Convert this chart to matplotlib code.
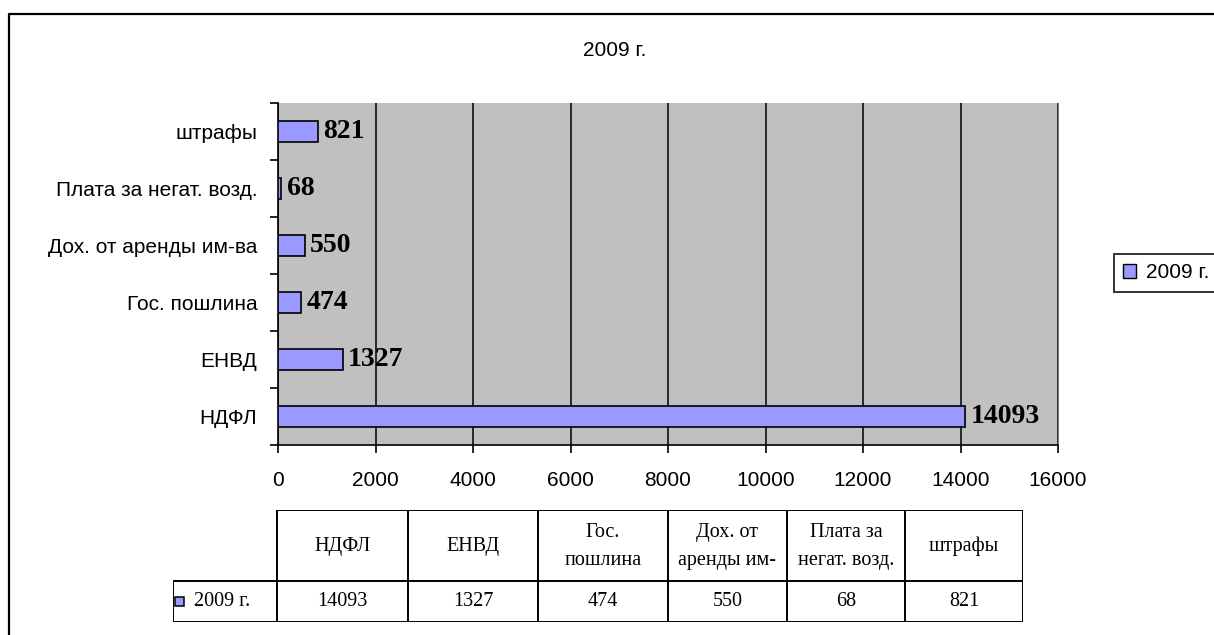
import numpy as np
import matplotlib
matplotlib.use("Agg")
import matplotlib.pyplot as plt
from matplotlib.patches import Rectangle
from matplotlib.lines import Line2D

# data
categories = ["НДФЛ", "ЕНВД", "Гос. пошлина", "Дох. от аренды им-ва",
              "Плата за негат. возд.", "штрафы"]
table_headers = ["НДФЛ", "ЕНВД", "Гос.\nпошлина", "Дох. от\nаренды им-",
                 "Плата за\nнегат. возд.", "штрафы"]
values = [14093, 1327, 474, 550, 68, 821]
series_name = "2009 г."
x_ticks = [0, 2000, 4000, 6000, 8000, 10000, 12000, 14000, 16000]

W, H = 1214, 635
bar_color = "#9999FF"
sans = ["Liberation Sans", "DejaVu Sans"]
serif = ["Liberation Serif", "DejaVu Serif"]

fig = plt.figure(figsize=(W / 100, H / 100), dpi=100)


def px(x0, y0, x1, y1):
    # pixel box (top-left origin) -> figure fraction rect
    return [x0 / W, 1 - y1 / H, (x1 - x0) / W, (y1 - y0) / H]


# outer chart frame (runs off the image right and bottom)
fig.add_artist(Line2D([9 / W, 9 / W, 1.0], [0.0, 1 - 14 / H, 1 - 14 / H],
                      transform=fig.transFigure, color="black", lw=1.6))

fig.text(615 / W, 1 - 50 / H, series_name, ha="center", va="center",
         fontsize=15, family=sans)

# main bar chart
ax = fig.add_axes(px(278, 103, 1058, 445))
ax.set_facecolor("#C0C0C0")
y = np.arange(len(categories))
ax.barh(y, values, height=0.38, color=bar_color, edgecolor="black",
        linewidth=1.2, zorder=3)
for yi, v in zip(y, values):
    ax.text(v + 110, yi, str(v), va="center", ha="left", fontsize=20,
            fontweight="bold", family=serif, zorder=0.5)

ax.set_xlim(0, 16000)
ax.set_ylim(-0.5, len(categories) - 0.5)
ax.set_xticks(x_ticks)
ax.set_xticklabels([str(t) for t in x_ticks], fontsize=15, family=sans)
ax.grid(axis="x", color="black", lw=1.1, zorder=1)
ax.set_axisbelow(True)
ax.set_yticks(y)
ax.set_yticklabels(categories, fontsize=15, family=sans)
ax.set_yticks(np.arange(-0.5, len(categories)), minor=True)
ax.tick_params(axis="y", which="major", length=0, pad=15)
ax.tick_params(axis="y", which="minor", length=6, width=1.2, direction="out")
ax.tick_params(axis="x", length=6, width=1.2, direction="out", pad=13)
ax.spines["top"].set_visible(False)
ax.spines["right"].set_color("#808080")
ax.spines["left"].set_linewidth(1.2)
ax.spines["bottom"].set_linewidth(1.2)

# legend box on the right
leg = ax.legend([Rectangle((0, 0), 1, 1, facecolor=bar_color, edgecolor="black")],
                [series_name], loc="upper left",
                bbox_to_anchor=(1114 / W, 1 - 254 / H),
                bbox_transform=fig.transFigure,
                prop={"family": sans, "size": 15}, frameon=True, fancybox=False,
                handlelength=0.6, handleheight=0.6, handletextpad=0.5,
                borderpad=0.45, borderaxespad=0)
leg.get_frame().set_edgecolor("black")
leg.get_frame().set_linewidth(1.4)

# data table below
col_edges = [173, 277, 408, 538, 668, 787, 905, 1023]
row_edges = [510, 581, 622]
tab = fig.add_axes(px(col_edges[0], row_edges[0], col_edges[-1], row_edges[-1]))
tab.set_xlim(col_edges[0], col_edges[-1])
tab.set_ylim(row_edges[-1], row_edges[0])
tab.axis("off")
lw = 1.4
# horizontal lines
tab.plot([col_edges[1], col_edges[-1]], [row_edges[0]] * 2, color="black", lw=lw)
tab.plot([col_edges[0], col_edges[-1]], [row_edges[1]] * 2, color="black", lw=lw)
tab.plot([col_edges[0], col_edges[-1]], [row_edges[2]] * 2, color="black", lw=lw)
# vertical lines
for i, cx in enumerate(col_edges):
    top = row_edges[1] if i == 0 else row_edges[0]
    tab.plot([cx, cx], [top, row_edges[2]], color="black", lw=lw)
for i in range(len(values)):
    cx = (col_edges[i + 1] + col_edges[i + 2]) / 2
    tab.text(cx, (row_edges[0] + row_edges[1]) / 2 + 1, table_headers[i],
             ha="center", va="center", fontsize=14.5, family=serif,
             linespacing=1.65)
    tab.text(cx, (row_edges[1] + row_edges[2]) / 2, str(values[i]),
             ha="center", va="center", fontsize=14.5, family=serif)
tab.add_patch(Rectangle((175, 597), 9, 9, facecolor=bar_color,
                        edgecolor="black", lw=1.1))
tab.text(194, (row_edges[1] + row_edges[2]) / 2, series_name, ha="left",
         va="center", fontsize=14.5, family=serif)

fig.savefig("out.png", dpi=100)
